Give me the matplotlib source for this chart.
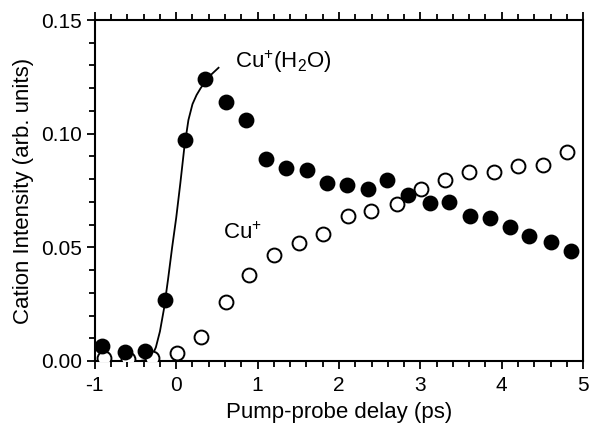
import matplotlib
matplotlib.use("Agg")
import matplotlib.pyplot as plt
from matplotlib.ticker import MultipleLocator

plt.rcParams['font.family'] = ['Liberation Sans', 'DejaVu Sans']
plt.rcParams['mathtext.fontset'] = 'custom'
plt.rcParams['mathtext.rm'] = 'Liberation Sans'
plt.rcParams['mathtext.it'] = 'Liberation Sans'

# Cu+(H2O) (filled circles)
hydr_delay = [-0.91, -0.63, -0.38, -0.14, 0.11, 0.35, 0.61, 0.86, 1.10, 1.35, 1.61, 1.85,
              2.10, 2.36, 2.59, 2.85, 3.12, 3.35, 3.61, 3.85, 4.10, 4.34, 4.60, 4.85]
hydr_int = [0.0066, 0.0040, 0.0044, 0.0270, 0.0970, 0.1240, 0.1140, 0.1060, 0.0890, 0.0850,
            0.0840, 0.0785, 0.0775, 0.0755, 0.0795, 0.0730, 0.0695, 0.0700, 0.0640, 0.0630,
            0.0590, 0.0550, 0.0525, 0.0485]

# Cu+ (open circles)
bare_delay = [-0.89, -0.59, -0.30, 0.01, 0.30, 0.61, 0.89, 1.20, 1.51, 1.80, 2.11, 2.39,
              2.71, 3.01, 3.30, 3.60, 3.91, 4.20, 4.51, 4.80]
bare_int = [0.0013, 0.0010, 0.0013, 0.0035, 0.0106, 0.0260, 0.0380, 0.0466, 0.0520, 0.0560,
            0.0640, 0.0662, 0.0692, 0.0755, 0.0796, 0.0830, 0.0832, 0.0860, 0.0862, 0.0920]

# fitted rise curve
fit_delay = [-0.45, -0.35, -0.30, -0.25, -0.20, -0.15, -0.10, -0.05, 0.00, 0.05, 0.10,
             0.15, 0.20, 0.25, 0.30, 0.40, 0.52]
fit_int = [0.0000, 0.0005, 0.0020, 0.0060, 0.0130, 0.0230, 0.0360, 0.0500, 0.0630, 0.0780,
           0.0940, 0.1060, 0.1130, 0.1170, 0.1200, 0.1250, 0.1290]

fig = plt.figure(figsize=(5.89, 4.26), dpi=100)
ax = fig.add_axes([0.161, 0.1526, 0.829, 0.8004])

ax.plot(fit_delay, fit_int, color='black', lw=1.3, zorder=2)
ax.plot(bare_delay, bare_int, 'o', ms=10, mfc='white', mec='black', mew=1.4, zorder=3)
ax.plot(hydr_delay, hydr_int, 'o', ms=10, mfc='black', mec='black', mew=1.4, zorder=4)

ax.set_xlim(-1, 5)
ax.set_ylim(0, 0.15)
ax.xaxis.set_major_locator(MultipleLocator(1))
ax.xaxis.set_minor_locator(MultipleLocator(0.2))
ax.yaxis.set_major_locator(MultipleLocator(0.05))
ax.yaxis.set_minor_locator(MultipleLocator(0.01))
ax.yaxis.set_major_formatter(matplotlib.ticker.FormatStrFormatter('%.2f'))
ax.xaxis.set_major_formatter(matplotlib.ticker.FuncFormatter(lambda v, p: '%d' % round(v)))

for s in ax.spines.values():
    s.set_linewidth(1.5)
ax.tick_params(which='both', direction='out', top=True, right=False, width=1.3, labelsize=15)
ax.tick_params(which='major', length=6)
ax.tick_params(axis='x', which='major', pad=5)
ax.tick_params(axis='y', which='major', pad=3)
ax.tick_params(which='minor', length=4)

ax.set_xlabel('Pump-probe delay (ps)', fontsize=16, labelpad=5)
ax.set_ylabel('Cation Intensity (arb. units)', fontsize=16, labelpad=5)

ax.text(0.72, 0.1315, r'Cu$^{+}$(H$_{2}$O)', fontsize=16, va='center', ha='left')
ax.text(0.58, 0.056, r'Cu$^{+}$', fontsize=16, va='center', ha='left')

fig.savefig('out.png', dpi=100)
